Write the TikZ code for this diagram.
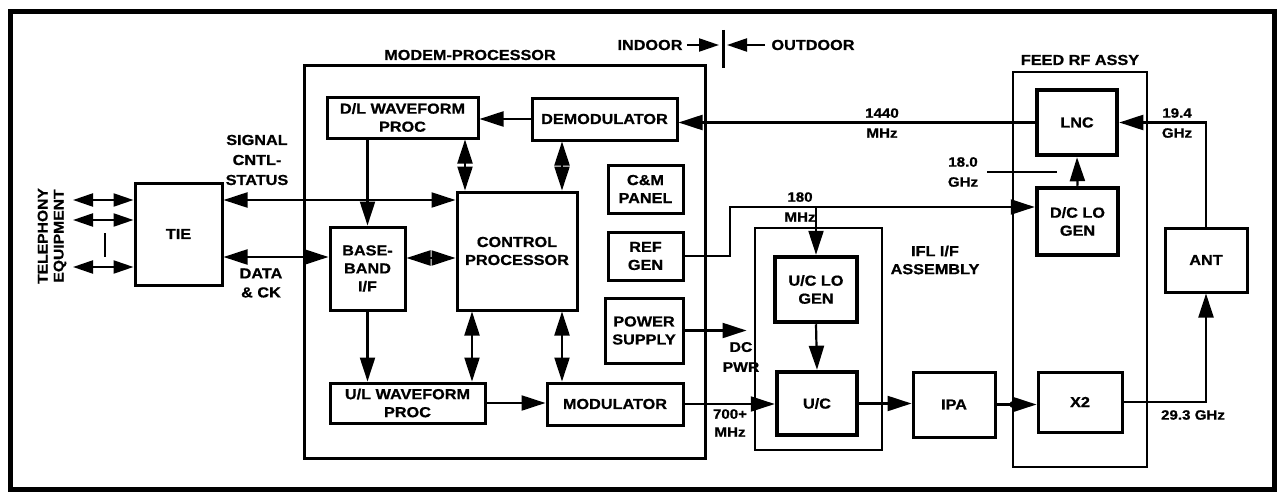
\documentclass[tikz,border=0pt]{standalone}
\usepackage{fontspec}
\setmainfont{Liberation Sans}[FakeStretch=1.12,BoldFeatures={FakeBold=0.8}]
\usetikzlibrary{arrows.meta}
\begin{document}
\begin{tikzpicture}[x=1pt,y=-1pt,>={Triangle[length=24pt,width=15pt]},
  font=\bfseries\fontsize{14.5}{18}\selectfont,
  conn/.style={line width=2.2pt},
  blk/.style={draw,line width=3pt,align=center,inner sep=0pt},
  thk/.style={blk,line width=4.5pt},
  lbl/.style={align=center,inner sep=0pt},
  frq/.style={lbl,font=\bfseries\fontsize{13.5}{20}\selectfont}]
\useasboundingbox (0,0) rectangle (1279,495);
\fill[white] (0,0) rectangle (1279,495);
\draw[line width=5pt] (10,12) rectangle (1274,489);
% assemblies
\draw[line width=3pt] (304,66) rectangle (705,458);
\draw[line width=2pt] (755,228) rectangle (882,450);
\draw[line width=2pt] (1013,72) rectangle (1147,467);
\node[lbl] (mplbl) at (470,55) {MODEM-PROCESSOR};
\node[lbl] (ifllbl) at (935,260) {IFL I/F\\ASSEMBLY};
\node[lbl] (feedlbl) at (1080,60) {FEED RF ASSY};
% blocks
\node[blk,minimum width=87pt,minimum height=102pt] (tie) at (178.5,234) {TIE};
\node[blk,minimum width=151pt,minimum height=41pt] (dl) at (402.5,117.5) {D/L WAVEFORM\\PROC};
\node[blk,minimum width=145pt,minimum height=42pt] (demod) at (604.5,119) {DEMODULATOR};
\node[blk,minimum width=75pt,minimum height=48pt] (cm) at (645.5,189) {C\&M\\PANEL};
\node[blk,minimum width=75pt,minimum height=48pt] (ref) at (645.5,256) {REF\\GEN};
\node[blk,minimum width=120pt,minimum height=118pt] (cp) at (517,251) {CONTROL\\PROCESSOR};
\node[blk,minimum width=75pt,minimum height=83pt] (bb) at (367.5,268.5) {BASE-\\BAND\\I/F};
\node[blk,minimum width=78pt,minimum height=65pt] (ps) at (644,330.5) {POWER\\SUPPLY};
\node[blk,minimum width=155pt,minimum height=40pt] (ul) at (407.5,403) {U/L WAVEFORM\\PROC};
\node[blk,minimum width=136pt,minimum height=42pt] (mod) at (615,404) {MODULATOR};
\node[thk,minimum width=82pt,minimum height=65pt] (uclo) at (816,289.5) {U/C LO\\GEN};
\node[thk,minimum width=80pt,minimum height=63pt] (uc) at (817,403.5) {U/C};
\node[blk,minimum width=82pt,minimum height=65pt] (ipa) at (954,404.5) {IPA};
\node[thk,minimum width=80pt,minimum height=65pt] (lnc) at (1077,122.5) {LNC};
\node[thk,minimum width=81pt,minimum height=67pt] (dclo) at (1077.5,221.5) {D/C LO\\GEN};
\node[blk,minimum width=84pt,minimum height=60pt] (x2) at (1080,402) {X2};
\node[blk,minimum width=82pt,minimum height=64pt] (ant) at (1206,260) {ANT};
% telephony side
\node[lbl,rotate=90,font=\bfseries\fontsize{14}{16}\selectfont] (tel) at (52,236) {TELEPHONY\\EQUIPMENT};
\coordinate (t1) at (73,200);
\coordinate (t2) at (73,220);
\coordinate (t3) at (73,267);
\draw[conn,<->,>={Triangle[length=20pt,width=13pt]}] (t1) -- (t1 -| tie.west);
\draw[conn,<->,>={Triangle[length=20pt,width=13pt]}] (t2) -- (t2 -| tie.west);
\draw[conn,<->,>={Triangle[length=20pt,width=13pt]}] (t3) -- (t3 -| tie.west);
\draw[conn] (105,233) -- (105,257);
\node[lbl,font=\bfseries\fontsize{14.5}{20}\selectfont] (sig) at (257,160) {SIGNAL\\CNTL-\\STATUS};
\node[lbl,font=\bfseries\fontsize{14.5}{19}\selectfont] (data) at (261,283) {DATA\\\& CK};
\draw[conn,<->] (tie.east |- 0,200) -- (cp.west |- 0,200);
\draw[conn,<->] (tie.east |- 0,257) -- (bb.west |- 0,257);
% modem-processor
\draw[conn,->] (demod.west) -- (dl.east |- demod.west);
\draw[conn,->] (bb.north |- dl.south) -- (bb.north);
\draw[conn,<->] (dl.south -| 465,0) -- (cp.north -| 465,0);
\draw[conn,<->] (demod.south -| 562,0) -- (cp.north -| 562,0);
\draw[conn,<->] (bb.east |- 0,258) -- (cp.west |- 0,258);
\draw[conn,->] (bb.south) -- (bb.south |- ul.north);
\draw[conn,<->] (cp.south -| 472,0) -- (ul.north -| 472,0);
\draw[conn,<->] (cp.south -| 562,0) -- (mod.north -| 562,0);
\draw[conn,->] (ul.east) -- (mod.west |- ul.east);
\draw[conn,->] (ps.east) -- ++(62,0) coordinate (dc);
\node[lbl,font=\bfseries\fontsize{14}{20}\selectfont] (dclbl) at (741,357) {DC\\PWR};
% IF / RF chain
\draw[conn,->] (mod.east) -- (uc.west |- mod.east);
\fill (757,404) circle (3.5pt);
\node[frq,font=\bfseries\fontsize{13.5}{18}\selectfont] (f700) at (730,423) {700+\\MHz};
\draw[conn,->] (ref.east) -- (730,256) |- (dclo.west |- 0,207);
\draw[conn,->] (uclo.north |- 0,207) -- (uclo.north);
\node[frq] (f180) at (800,207) {180\\MHz};
\draw[conn,->] (uclo.south) -- (uc.north);
\draw[conn,->] (uc.east) -- (ipa.west |- uc.east);
\draw[conn,->] (ipa.east) -- (x2.west |- ipa.east);
\fill (1013,404.5) circle (3.5pt);
\draw[conn,->] (dclo.north) -- (lnc.south);
\node[frq] (f18) at (963,172) {18.0\\GHz};
\draw[conn] (987,172) -- (1057,172);
\draw[conn,->] (lnc.west) -- (demod.east |- lnc.west);
\node[frq] (f1440) at (882,123) {1440\\MHz};
\draw[conn,->] (ant.north) |- (lnc.east);
\node[frq] (f194) at (1177,123) {19.4\\GHz};
\draw[conn,->] (x2.east) -| (ant.south);
\node[frq] (f293) at (1193,415) {29.3 GHz};
% indoor / outdoor
\draw[line width=3pt] (723,30) -- (723,68);
\node[lbl] (indoor) at (650,45) {INDOOR};
\node[lbl] (outdoor) at (813,45) {OUTDOOR};
\draw[conn,->,>={Triangle[length=20pt,width=13pt]}] (687,45) -- (719,45);
\draw[conn,->,>={Triangle[length=20pt,width=13pt]}] (765,45) -- (727,45);
\end{tikzpicture}
\end{document}
